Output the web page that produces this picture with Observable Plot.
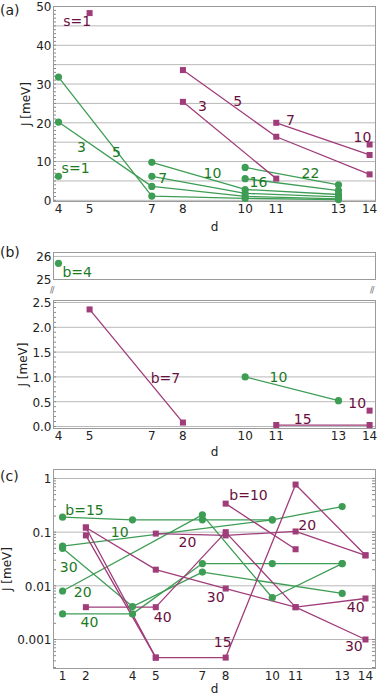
<!DOCTYPE html>
<html><head><meta charset="utf-8">
<script src="https://cdn.jsdelivr.net/npm/d3@7"></script>
<script src="https://cdn.jsdelivr.net/npm/@observablehq/plot@0.6"></script>
<style>
body{margin:0;background:#fff;font-family:"DejaVu Sans",sans-serif;}
#root{position:relative;width:378px;height:696px;overflow:hidden;background:#fff;}
.panel{position:absolute;left:0;}
.tag{position:absolute;left:0;font-size:14px;color:#222;line-height:1;}
.brk{position:absolute;font-size:8px;color:#666;line-height:1;letter-spacing:-1px;}
</style></head><body><div id="root"></div>
<script>
// ---------- Panel (a) data ----------
const aGreenNames = ["s=1","3","5","7","10","16","22"];
const aGreenD = [[4],[4,7,10,13],[4,7,10,13],[7,10,13],[7,10,13],[10,13],[10,13]];
const aGreenJ = [[6.2],[20.2,3.6,1.0,0.4],[31.8,1.1,0.5,0.2],[6.2,1.8,0.9],[9.8,2.8,1.5],[5.6,2.5],[8.5,4.0]];
const aMagNames = ["s=1","3","5","7","10"];
const aMagD = [[5],[8,11],[8,11,14],[11,14],[14]];
const aMagJ = [[48.3],[25.4,5.6],[33.6,16.4,6.7],[20.0,11.7],[14.4]];
const aGreenLabelText = ["s=1","3","5","7","10","16","22"];
const aGreenLabelD = [4.55,4.74,5.86,7.35,8.95,10.43,12.1];
const aGreenLabelJ = [8.2,13.6,12.3,5.6,6.9,4.6,6.9];
const aMagLabelText = ["s=1","3","5","7","10"];
const aMagLabelD = [4.6,8.63,9.76,11.46,13.77];
const aMagLabelJ = [46,24.1,25.4,20.5,16.2];
const aYTicks = [0,10,20,30,40,50];
const aGridTicks = [0,5,10,15,20,25,30,35,40,45,50];
const abXTicks = [4,5,7,8,10,11,13,14];

// ---------- Panel (b) data ----------
const bTopGreenD = [4];
const bTopGreenJ = [25.7];
const bTopLabelText = ["b=4"];
const bTopLabelD = [4.6];
const bTopLabelJ = [25.3];
const bTopYTicks = [25,26];
const bGreenNames = ["10"];
const bGreenD = [[10,13]];
const bGreenJ = [[1.0,0.52]];
const bMagNames = ["b=7","10","15"];
const bMagD = [[5,8],[14],[11,14]];
const bMagJ = [[2.36,0.08],[0.32],[0.03,0.03]];
const bGreenLabelText = ["10"];
const bGreenLabelD = [11.07];
const bGreenLabelJ = [0.99];
const bMagLabelText = ["b=7","10","15"];
const bMagLabelD = [7.44,13.6,11.85];
const bMagLabelJ = [0.97,0.46,0.14];
const bYTicks = [0,0.5,1.0,1.5,2.0,2.5];

// ---------- Panel (c) data ----------
const cGreenNames = ["b=15","10","20","30","40"];
const cGreenD = [[1,4,7,10],[1,10,13],[1,7,10,13],[1,4,7,13],[1,4,7,10,13]];
const cGreenJ = [[0.19,0.17,0.17,0.17],[0.055,0.17,0.30],[0.008,0.21,0.006,0.026],[0.05,0.0041,0.018,0.0072],[0.003,0.003,0.026,0.026,0.026]];
const cMagNames = ["b=10","15","20","30","40","x"];
const cMagD = [[8,11],[2,5,8,11,14],[5,8,11,14],[2,5,8,11,14],[2,5,8,11,14],[2,5]];
const cMagJ = [[0.34,0.048],[0.087,0.00046,0.00046,0.77,0.037],[0.094,0.087,0.103,0.037],[0.122,0.020,0.0089,0.004,0.001],[0.004,0.004,0.10,0.004,0.0058],[0.122,0.00046]];
const cGreenLabelText = ["b=15","10","30","20","40"];
const cGreenLabelD = [1.94,3.45,1.26,1.86,2.15];
const cGreenLabelJ = [0.25,0.10,0.022,0.0075,0.0021];
const cMagLabelText = ["b=10","20","20","30","40","15","40","30"];
const cMagLabelD = [8.98,6.36,11.5,7.57,5.3,7.87,13.58,13.5];
const cMagLabelJ = [0.48,0.064,0.133,0.0061,0.0026,0.00089,0.0040,0.00074];
const cYTicks = [1,0.1,0.01,0.001];
const cXTicks = [1,2,4,5,7,8,10,11,13,14];

// ---------- styles ----------
const GREEN = "#3e9d55", GREEN_TXT = "#1c7a1f";
const MAG = "#a03c7a", MAG_TXT = "#6a1040";
const GRID = "#b8b8b8", FRAME = "#9a9a9a", TICK = "#888";
const FONT = "DejaVu Sans";

const rows = (names, ds, js) => names.flatMap((n, i) => ds[i].map((d, k) => ({s: n, d, J: js[i][k]})));
const labs = (t, ds, js) => t.map((tt, i) => ({t: tt, d: ds[i], J: js[i]}));

const root = document.getElementById("root");
function place(svg, top) {
  const div = document.createElement("div");
  div.className = "panel";
  div.style.top = top + "px";
  div.appendChild(svg);
  root.appendChild(div);
}
function addText(cls, txt, left, top) {
  const s = document.createElement("div");
  s.className = cls; s.textContent = txt;
  s.style.left = left + "px"; s.style.top = top + "px";
  root.appendChild(s);
}
const baseStyle = {fontFamily: FONT, fontSize: "12px", color: "#222", background: "transparent", overflow: "visible"};

function seriesMarks(gRows, mRows, gLabs, mLabs) {
  return [
    Plot.line(gRows, {x: "d", y: "J", z: "s", stroke: GREEN, strokeWidth: 1.3}),
    Plot.line(mRows, {x: "d", y: "J", z: "s", stroke: MAG, strokeWidth: 1.3}),
    Plot.dot(gRows, {x: "d", y: "J", r: 3.6, fill: GREEN, stroke: "none"}),
    Plot.dot(mRows, {x: "d", y: "J", r: 3.4, symbol: "square", fill: MAG, stroke: "none"}),
    Plot.text(gLabs, {x: "d", y: "J", text: "t", fill: GREEN_TXT, fontSize: 14}),
    Plot.text(mLabs, {x: "d", y: "J", text: "t", fill: MAG_TXT, fontSize: 14})
  ];
}

// ---------- Panel (a) ----------
const aMinor = d3.range(0, 51, 1);
place(Plot.plot({
  width: 378, height: 235,
  marginLeft: 53, marginRight: 3, marginTop: 6, marginBottom: 34,
  style: baseStyle,
  x: {domain: [3.84, 14.19]},
  y: {domain: [-0.3, 50]},
  marks: [
    Plot.gridY(aGridTicks, {stroke: GRID, strokeOpacity: 1}),
    Plot.tickY(aMinor, {y: d => d, insetRight: 319, stroke: TICK}),
    Plot.frame({stroke: FRAME}),
    Plot.axisY(aYTicks, {tickSize: 0, tickPadding: 2, dy: 1, fontSize: 12, label: "J [meV]", labelAnchor: "center", labelArrow: "none", labelOffset: 32}),
    Plot.axisX(abXTicks, {tickSize: 0, tickPadding: 3, fontSize: 12, label: "d", labelAnchor: "center", labelArrow: "none", labelOffset: 29}),
    ...seriesMarks(rows(aGreenNames, aGreenD, aGreenJ), rows(aMagNames, aMagD, aMagJ),
      labs(aGreenLabelText, aGreenLabelD, aGreenLabelJ), labs(aMagLabelText, aMagLabelD, aMagLabelJ))
  ]
}), 0);
addText("tag", "(a)", 0, 3);

// ---------- Panel (b) top ----------
place(Plot.plot({
  width: 378, height: 36,
  marginLeft: 53, marginRight: 3, marginTop: 7, marginBottom: 2,
  style: baseStyle,
  x: {domain: [3.84, 14.19], axis: null},
  y: {domain: [25, 26.17]},
  marks: [
    Plot.gridY([26], {stroke: GRID, strokeOpacity: 1}),
    Plot.frame({stroke: FRAME}),
    Plot.axisY(bTopYTicks, {tickSize: 0, tickPadding: 2, dy: 1, fontSize: 12, label: null}),
    Plot.dot(bTopGreenD.map((d, i) => ({d, J: bTopGreenJ[i]})), {x: "d", y: "J", r: 3.6, fill: GREEN}),
    Plot.text(labs(bTopLabelText, bTopLabelD, bTopLabelJ), {x: "d", y: "J", text: "t", fill: GREEN_TXT, fontSize: 14})
  ]
}), 245);
addText("tag", "(b)", 0, 245);
addText("brk", "//", 50, 287);
addText("brk", "//", 370, 287);

// ---------- Panel (b) bottom ----------
const bMinor = d3.range(0, 2.51, 0.1);
place(Plot.plot({
  width: 378, height: 170,
  marginLeft: 53, marginRight: 3, marginTop: 8, marginBottom: 34,
  style: baseStyle,
  x: {domain: [3.84, 14.19]},
  y: {domain: [-0.04, 2.54]},
  marks: [
    Plot.gridY(bYTicks, {stroke: GRID, strokeOpacity: 1}),
    Plot.tickY(bMinor, {y: d => d, insetRight: 319, stroke: TICK}),
    Plot.frame({stroke: FRAME}),
    Plot.axisY(bYTicks, {tickSize: 0, tickPadding: 2, dy: 1, fontSize: 12, tickFormat: d3.format(".1f"), label: "J [meV]", labelAnchor: "center", labelArrow: "none", labelOffset: 35}),
    Plot.axisX(abXTicks, {tickSize: 0, tickPadding: 3, fontSize: 12, label: "d", labelAnchor: "center", labelArrow: "none", labelOffset: 27}),
    ...seriesMarks(rows(bGreenNames, bGreenD, bGreenJ), rows(bMagNames, bMagD, bMagJ),
      labs(bGreenLabelText, bGreenLabelD, bGreenLabelJ), labs(bMagLabelText, bMagLabelD, bMagLabelJ))
  ]
}), 292);

// ---------- Panel (c) ----------
const cMinor = d3.range(-4, 1).flatMap(e => d3.range(1, 10).map(m => m * Math.pow(10, e))).filter(v => v >= 0.0003 && v <= 1.45);
place(Plot.plot({
  width: 378, height: 234,
  marginLeft: 53, marginRight: 3, marginTop: 7, marginBottom: 28,
  style: baseStyle,
  x: {domain: [0.61, 14.43]},
  y: {type: "log", domain: [0.000288, 1.47]},
  marks: [
    Plot.gridY(cYTicks, {stroke: GRID, strokeOpacity: 1}),
    Plot.tickY(cMinor, {y: d => d, insetRight: 319, stroke: TICK}),
    Plot.tickY(cMinor, {y: d => d, insetLeft: 319, stroke: TICK}),
    Plot.frame({stroke: FRAME}),
    Plot.axisY(cYTicks, {tickSize: 0, tickPadding: 2, dy: 1, fontSize: 12, tickFormat: d => String(d), label: "J [meV]", labelAnchor: "center", labelArrow: "none", labelOffset: 51}),
    Plot.axisX(cXTicks, {tickSize: 0, tickPadding: 3, fontSize: 12, label: "d", labelAnchor: "center", labelArrow: "none", labelOffset: 24}),
    ...seriesMarks(rows(cGreenNames, cGreenD, cGreenJ), rows(cMagNames, cMagD, cMagJ),
      labs(cGreenLabelText, cGreenLabelD, cGreenLabelJ), labs(cMagLabelText, cMagLabelD, cMagLabelJ))
  ]
}), 462);
addText("tag", "(c)", 0, 469);
</script></body></html>
